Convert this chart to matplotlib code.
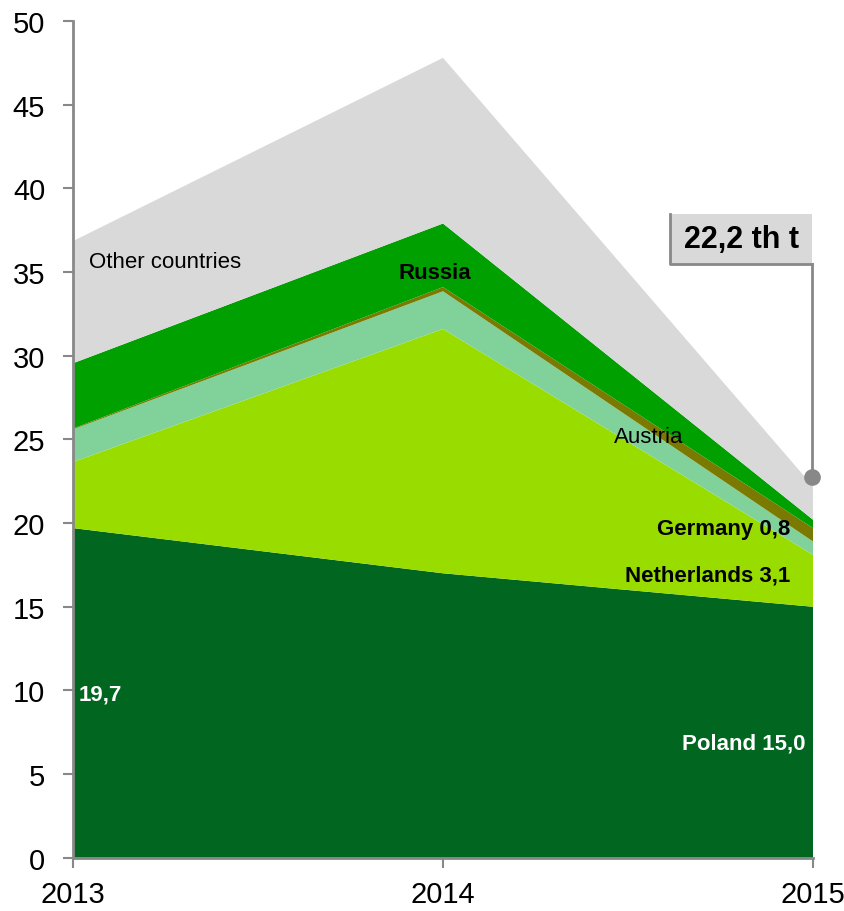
import matplotlib
matplotlib.use("Agg")
import matplotlib.pyplot as plt
from matplotlib.patches import Rectangle
import numpy as np

years = [2013, 2014, 2015]
poland = [19.7, 17.0, 15.0]
netherlands = [3.95, 14.6, 3.1]
austria = [1.95, 2.25, 0.8]
germany = [0.05, 0.25, 0.8]
russia = [3.9, 3.8, 0.5]
other = [7.3, 9.9, 2.0]
series_names = ["Poland", "Netherlands", "Austria", "Germany", "Russia", "Other countries"]
colors = ["#006620", "#99DD00", "#80D29A", "#7A7A00", "#00A000", "#D9D9D9"]
total_label = "22,2 th t"
yticks = [0, 5, 10, 15, 20, 25, 30, 35, 40, 45, 50]

plt.rcParams['font.family'] = ['Liberation Sans Narrow', 'Liberation Sans', 'DejaVu Sans']

fig = plt.figure(figsize=(8.45, 9.12), dpi=100)
ax = fig.add_axes([73/845, 1 - 858.8/912, (813-73)/845, (858.8-22)/912])

data = [poland, netherlands, austria, germany, russia, other]
ax.stackplot(years, *data, colors=colors, labels=series_names, linewidth=0)

ax.set_xlim(2013, 2015)
ax.set_ylim(0, 50)
ax.set_yticks(yticks)
ax.set_xticks(years)
ax.tick_params(axis='both', labelsize=21, colors='#888888', length=7, width=1.5, labelcolor='black')
ax.tick_params(axis='y', pad=13)
ax.tick_params(axis='x', pad=9)
for s in ['top', 'right']:
    ax.spines[s].set_visible(False)
for s in ['left', 'bottom']:
    ax.spines[s].set_color('#888888')
    ax.spines[s].set_linewidth(2)
ax.set_facecolor('white')

def px_x(px):
    return 2013 + (px - 73) / 370.0

def px_y(py):
    return (858.8 - py) / 16.74

ax.text(px_x(89), px_y(262), "Other countries", fontsize=16, ha='left', va='center', color='black')
ax.text(px_x(435), px_y(273), "Russia", fontsize=16, fontweight='bold', ha='center', va='center', color='black')
ax.text(px_x(614), px_y(437), "Austria", fontsize=16, ha='left', va='center', color='black')
ax.text(px_x(790), px_y(529), "Germany 0,8", fontsize=16, fontweight='bold', ha='right', va='center', color='black')
ax.text(px_x(790), px_y(576), "Netherlands 3,1", fontsize=16, fontweight='bold', ha='right', va='center', color='black')
ax.text(px_x(805), px_y(744), "Poland 15,0", fontsize=16, fontweight='bold', ha='right', va='center', color='white')
ax.text(px_x(79), px_y(695), "19,7", fontsize=16, fontweight='bold', ha='left', va='center', color='white')

# callout box
bx0, bx1, by0, by1 = px_x(670), px_x(812), px_y(265), px_y(215)
ax.add_patch(Rectangle((bx0, by0), bx1 - bx0, by1 - by0, facecolor='#D9D9D9', edgecolor='none', clip_on=False, zorder=5))
ax.plot([bx0, bx0, bx1], [by1, by0, by0], color='#888888', lw=2, clip_on=False, zorder=6)
ax.text((bx0 + bx1) / 2, (by0 + by1) / 2, total_label, fontsize=22, fontweight='bold', ha='center', va='center', zorder=7)
ax.plot([px_x(812), px_x(812)], [by0, px_y(478)], color='#888888', lw=2, clip_on=False, zorder=6)
ax.plot([px_x(812)], [px_y(478)], marker='o', markersize=11, color='#888888', clip_on=False, zorder=7)

fig.savefig("out.png", dpi=100)
